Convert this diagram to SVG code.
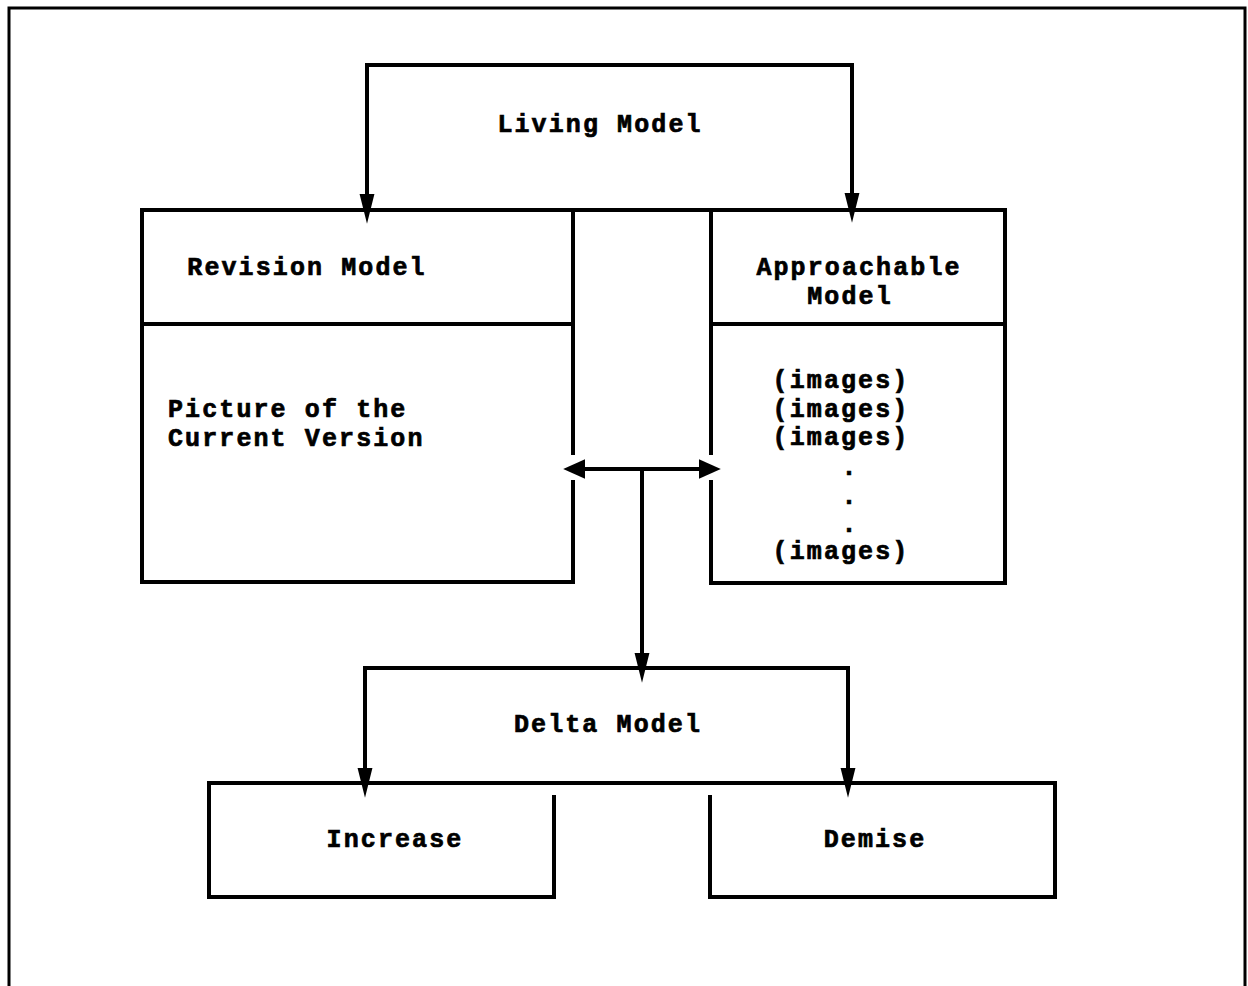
<svg xmlns="http://www.w3.org/2000/svg" width="1248" height="986" viewBox="0 0 1248 986">
  <style>
    .ln { fill: none; stroke: #000; stroke-width: 4; stroke-linejoin: miter; stroke-linecap: square; }
    .frame { fill: none; stroke: #000; stroke-width: 3; }
    .conn { fill: none; stroke: #000; stroke-width: 4; stroke-linecap: butt; }
    .t { font-family: "Liberation Mono", "DejaVu Sans Mono", monospace; font-weight: bold; font-size: 25px; letter-spacing: 2.1px; fill: #000; stroke: #000; stroke-width: 0.7; }
    .c { text-anchor: middle; }
  </style>
  <defs>
    <marker id="arrow" markerUnits="userSpaceOnUse" markerWidth="30" markerHeight="16" viewBox="0 0 28 14" refX="18" refY="7" orient="auto">
      <path d="M0,0 L28,7 L0,14 Z" fill="#000"/>
    </marker>
    <marker id="arrowWide" markerUnits="userSpaceOnUse" markerWidth="22" markerHeight="20" viewBox="0 0 20 18" refX="12" refY="9" orient="auto-start-reverse">
      <path d="M0,0 L20,9 L0,18 Z" fill="#000"/>
    </marker>
  </defs>
  <rect width="1248" height="986" fill="#fff"/>

  <g id="frame">
    <path class="frame" d="M9,986 V8 H1245 V986"/>
  </g>

  <g id="living-model">
    <path class="ln" d="M367,65 H852"/>
    <path class="ln" d="M573,210 H711"/>
    <text class="t c" x="600" y="132">Living Model</text>
  </g>

  <g id="revision-model">
    <path class="ln" d="M573,453 V210 H142 V582 H573 V482"/>
    <path class="ln" d="M142,324 H573"/>
    <text class="t c" x="307" y="275">Revision Model</text>
    <text class="t" x="168" y="417">Picture of the</text>
    <text class="t" x="168" y="446">Current Version</text>
  </g>

  <g id="approachable-model">
    <path class="ln" d="M711,453 V210 H1005 V583 H711 V482"/>
    <path class="ln" d="M711,324 H1005"/>
    <text class="t c" x="859" y="275">Approachable</text>
    <text class="t c" x="850" y="303.5">Model</text>
    <text class="t c" x="841" y="388">(images)</text>
    <text class="t c" x="841" y="416.5">(images)</text>
    <text class="t c" x="841" y="445">(images)</text>
    <text class="t c" x="850" y="475">.</text>
    <text class="t c" x="850" y="503.5">.</text>
    <text class="t c" x="850" y="532">.</text>
    <text class="t c" x="841" y="559">(images)</text>
  </g>

  <g id="delta-model">
    <path class="ln" d="M365,668 H848"/>
    <path class="ln" d="M554,783 H710"/>
    <text class="t c" x="608" y="732">Delta Model</text>
  </g>

  <g id="increase">
    <path class="ln" d="M554,797 V897 H209 V783 H554"/>
    <text class="t c" x="395" y="847">Increase</text>
  </g>

  <g id="demise">
    <path class="ln" d="M710,797 V897 H1055 V783 H710"/>
    <text class="t c" x="875" y="847">Demise</text>
  </g>

  <g id="connectors">
    <path class="conn" d="M367,63 V213" marker-end="url(#arrow)"/>
    <path class="conn" d="M852,63 V212" marker-end="url(#arrow)"/>
    <path class="conn" d="M572,469 H712" marker-start="url(#arrowWide)" marker-end="url(#arrowWide)"/>
    <path class="conn" d="M642,467 V672" marker-end="url(#arrow)"/>
    <path class="conn" d="M365,666 V787" marker-end="url(#arrow)"/>
    <path class="conn" d="M848,666 V787" marker-end="url(#arrow)"/>
  </g>
</svg>
